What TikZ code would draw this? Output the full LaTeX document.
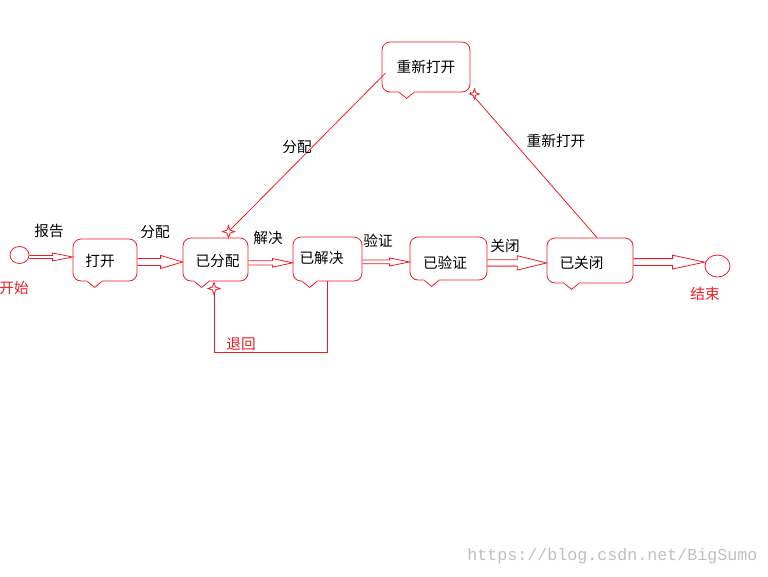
\documentclass[tikz,border=0pt]{standalone}
\usepackage{fontspec}
\newfontfamily\cjk{Noto Sans CJK SC}
\setmonofont{Liberation Mono}
\usetikzlibrary{shapes.geometric,calc}
\definecolor{lred}{RGB}{237,28,36}
\newcommand\bubtail[2]{%
  \fill[white] ([xshift=#2*0.75pt-5.5pt, yshift=-0.7pt]#1.south west) rectangle ([xshift=#2*0.75pt+5.5pt, yshift=0.7pt]#1.south west);
  \draw[tailline] ([xshift=#2*0.75pt-5.5pt]#1.south west) -- ([xshift=#2*0.75pt, yshift=-4.5pt]#1.south west) -- ([xshift=#2*0.75pt+5.5pt]#1.south west);}
\begin{document}
\begin{tikzpicture}[x=0.75pt,y=-0.75pt,
  font=\cjk\fontsize{11}{13}\selectfont,
  state/.style={draw=lred, line width=0.6pt, rounded corners=6pt, inner sep=0pt},
  tailline/.style={draw=lred, line width=0.6pt},
  term/.style={draw=lred, line width=0.6pt, ellipse, inner sep=0pt},
  conn/.style={draw=lred, line width=0.6pt},
  lbl/.style={inner sep=0pt},
  rlbl/.style={inner sep=0pt, text=lred},
  starhead/.style={draw=lred, fill=white, line width=0.6pt, star, star points=4, star point ratio=2.8, minimum size=9pt, inner sep=0pt},
  hollow/.style n args={3}{to path={let \p1=(\tikztostart), \p2=(\tikztotarget) in
     (\x1,\y1+#1) -- (\x2-#3,\y1+#1) -- (\x2-#3,\y1+#2) -- (\x2,\y1) -- (\x2-#3,\y1-#2) -- (\x2-#3,\y1-#1) -- (\x1,\y1-#1)}}
]
\useasboundingbox (0,0) rectangle (768,576);

% terminals
\node[term, minimum width=14.25pt, minimum height=12.75pt] (start) at (19.5,255) {};
\node[term, minimum width=18.75pt, minimum height=16.5pt] (end) at (717.5,266) {};

% states (boxes)
\node[state, minimum width=48pt, minimum height=31.5pt] (open) at (105,260) {};
\node[state, minimum width=48.75pt, minimum height=32.25pt] (assigned) at (215.5,259.5) {};
\node[state, minimum width=51.75pt, minimum height=33pt] (resolved) at (327.5,259) {};
\node[state, minimum width=57.75pt, minimum height=32.25pt] (verified) at (448.5,258.5) {};
\node[state, minimum width=64.5pt, minimum height=33.75pt] (closed) at (590,260.5) {};
\node[state, minimum width=66pt, minimum height=37.5pt] (reopen) at (426,67) {};

% state texts
\node[lbl] (open-t) at ([shift={(-5,1)}]open.center) {打开};
\node[lbl] (assigned-t) at ([shift={(2,1.5)}]assigned.center) {已分配};
\node[lbl] (resolved-t) at ([shift={(-6,-1)}]resolved.center) {已解决};
\node[lbl] (verified-t) at ([shift={(-3.5,4.5)}]verified.center) {已验证};
\node[lbl] (closed-t) at ([shift={(-8.5,2.5)}]closed.center) {已关闭};
\node[lbl] (reopen-t) at ([shift={(0,0)}]reopen.center) {重新打开};

\bubtail{open}{22}
\bubtail{assigned}{19}
\bubtail{resolved}{17}
\bubtail{verified}{22}
\bubtail{closed}{25}
\bubtail{reopen}{25}

% hollow arrows
\draw[conn] ([yshift=-1.5pt]start.east) to[hollow={1.1pt}{3pt}{15pt}] (open.west);
\draw[conn] ([yshift=-1.5pt]open.east) to[hollow={2.6pt}{4.9pt}{16.5pt}] (assigned.west);
\draw[conn] ([yshift=-2.5pt]assigned.east) to[hollow={1.6pt}{3.2pt}{15pt}] (resolved.west);
\draw[conn] ([yshift=-2.2pt]resolved.east) to[hollow={1.4pt}{3pt}{15pt}] (verified.west);
\draw[conn] ([yshift=-3.3pt]verified.east) to[hollow={2.4pt}{5.4pt}{22pt}] (closed.west);
\draw[conn] ([yshift=-1.2pt]closed.east) to[hollow={2.6pt}{5.2pt}{24pt}] (end.west);

% reopen connectors
\draw[conn] ([shift={(4,6)}]reopen.west) -- ([shift={(13,-6)}]assigned.north) node[starhead] (s1) {};
\draw[conn] ([xshift=5.25pt]closed.north) -- (reopen.south east);
\node[starhead, minimum size=7.5pt] (s2) at ([shift={(4,1.5)}]reopen.south east) {};

% return path
\coordinate (retc) at (214,352);
\coordinate (retend) at (214,288.5);
\draw[conn] (resolved.south) |- (retc) -- (retend);
\node[starhead] (s3) at (retend) {};

% labels
\node[lbl] (lb1) at (49,231) {报告};
\node[lbl] (lb2) at (155,232) {分配};
\node[lbl] (lb3) at (268,238) {解决};
\node[lbl] (lb4) at (378,241) {验证};
\node[lbl] (lb5) at (505,246) {关闭};
\node[lbl] (lb6) at (297,147) {分配};
\node[lbl] (lb7) at (556,141) {重新打开};
\node[rlbl] (lb8) at (241,344) {退回};
\node[rlbl] (lb9) at (14,288) {开始};
\node[rlbl] (lb10) at (705,294) {结束};

\node[anchor=west, inner sep=0pt, font=\ttfamily\fontsize{12.5}{14}\selectfont, text=gray!50] (wm) at (467,556) {https://blog.csdn.net/BigSumo};
\end{tikzpicture}
\end{document}
